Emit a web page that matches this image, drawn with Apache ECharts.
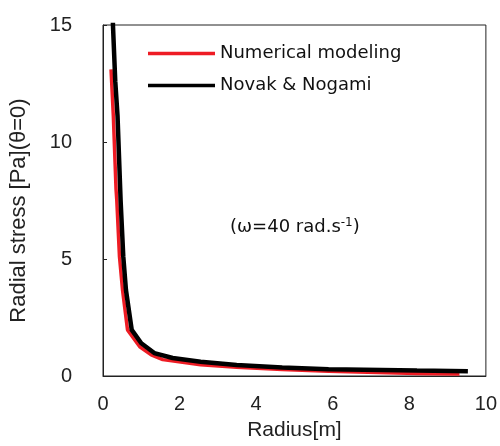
<!DOCTYPE html>
<html><head><meta charset="utf-8">
<script src="https://cdn.jsdelivr.net/npm/echarts@6/dist/echarts.min.js"></script>
<style>html,body{margin:0;padding:0;background:#fff}#c{width:500px;height:446px}</style>
</head><body><div id="c"></div>
<script>
const xTicks = [0, 2, 4, 6, 8, 10];
const yTicks = [0, 5, 10, 15];
const numX = [0.21, 0.27, 0.34, 0.36, 0.43, 0.51, 0.64, 0.96, 1.26, 1.56, 2.55, 3.49, 4.68, 5.89, 8.2, 9.31];
const numY = [13.1, 11.1, 8.0, 7.5, 5.1, 3.67, 1.97, 1.25, 0.9, 0.7, 0.48, 0.37, 0.28, 0.2, 0.11, 0.09];
const novX = [0.24, 0.26, 0.32, 0.38, 0.46, 0.53, 0.6, 0.75, 1.0, 1.34, 1.82, 2.55, 3.49, 4.68, 5.89, 8.2, 9.53];
const novY = [17, 15.0, 12.6, 11.1, 7.5, 5.1, 3.67, 1.97, 1.4, 0.98, 0.77, 0.61, 0.47, 0.36, 0.29, 0.23, 0.2];
const seriesNames = ['Numerical modeling', 'Novak & Nogami'];

const FONT = 'Liberation Sans';
const FONT2 = 'DejaVu Sans';
const chart = echarts.init(document.getElementById('c'));
chart.setOption({
  backgroundColor: '#fff',
  animation: false,
  grid: {left: 101, right: 10, top: 25, bottom: 70, show: true, borderColor: '#222', borderWidth: 1},
  legend: {
    left: 143, top: 39, orient: 'vertical', itemWidth: 67, itemHeight: 3.5, itemGap: 13,
    icon: 'rect',
    textStyle: {fontFamily: FONT2, fontSize: 18, color: '#111', lineHeight: 19},
    data: seriesNames
  },
  xAxis: {
    type: 'value', min: xTicks[0], max: xTicks[xTicks.length - 1], interval: 2,
    name: 'Radius[m]', nameLocation: 'middle', nameGap: 44,
    nameTextStyle: {fontFamily: FONT, fontSize: 21, color: '#222'},
    axisLine: {lineStyle: {color: '#222'}},
    axisTick: {show: false},
    splitLine: {show: false},
    axisLabel: {fontFamily: FONT, fontSize: 20, color: '#222', margin: 18}
  },
  yAxis: {
    type: 'value', min: yTicks[0], max: yTicks[yTicks.length - 1], interval: 5,
    name: 'Radial stress [Pa](θ=0)', nameLocation: 'middle', nameGap: 73,
    nameTextStyle: {fontFamily: FONT, fontSize: 22, color: '#222', padding: [0, 20, 0, 0]},
    axisLine: {lineStyle: {color: '#222'}},
    axisTick: {show: true, inside: true, length: 4, lineStyle: {color: '#222'}},
    splitLine: {show: false},
    axisLabel: {fontFamily: FONT, fontSize: 20, color: '#222', margin: 31}
  },
  graphic: [{
    type: 'text', left: 230, top: 217,
    style: {
      text: '(ω=40 rad.s{sup|-1})',
      fontFamily: FONT2, fontSize: 18, fill: '#111',
      rich: {sup: {fontFamily: FONT2, fontSize: 12, verticalAlign: 'top', padding: [0, 0, 8, 0], fill: '#111'}}
    }
  }],
  series: [
    {name: seriesNames[0], type: 'line', symbol: 'none', clip: true,
     lineStyle: {color: '#ee1c24', width: 3.5}, itemStyle: {color: '#ee1c24'},
     data: numX.map((x, i) => [x, numY[i]])},
    {name: seriesNames[1], type: 'line', symbol: 'none', clip: true,
     lineStyle: {color: '#000', width: 4.5}, itemStyle: {color: '#000'},
     data: novX.map((x, i) => [x, novY[i]])}
  ]
});
</script></body></html>
